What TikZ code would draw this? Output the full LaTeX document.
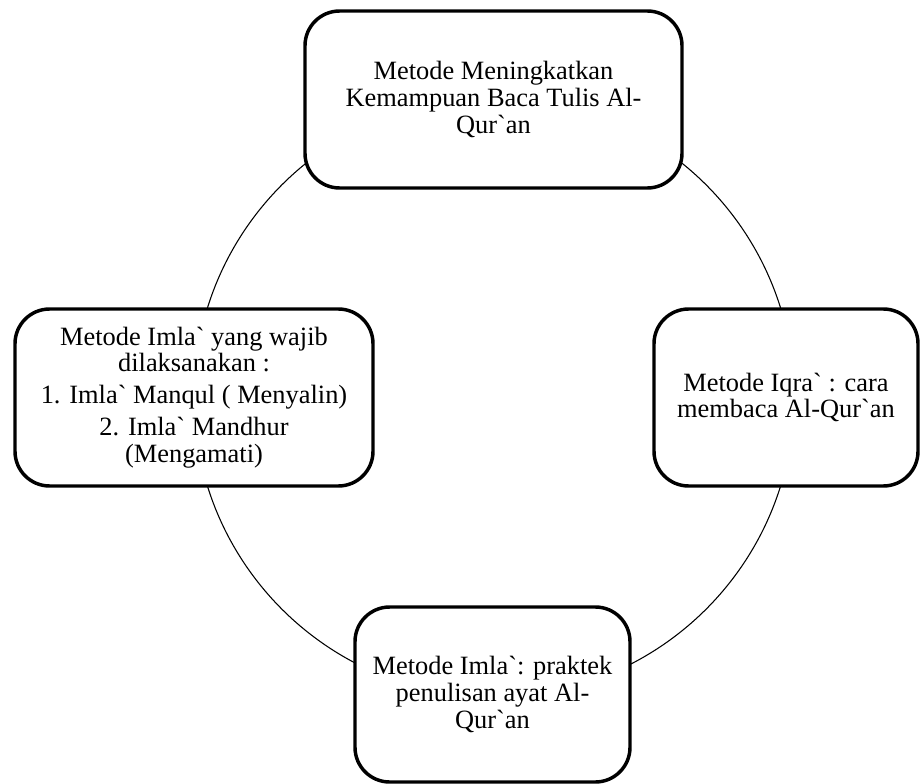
\documentclass[tikz,border=0pt]{standalone}
\usepackage{fontspec}
\setmainfont{Liberation Serif}[Ligatures=TeXOff]
\begin{document}
\begin{tikzpicture}[x=0.75pt,y=-0.75pt]
\tikzset{
  box/.style={draw, line width=2.6pt, rounded corners=26pt, fill=white,
    align=center, inner sep=0pt,
    font=\fontsize{19.8}{20}\selectfont},
  ring/.style={line width=0.8pt}
}
\useasboundingbox (0,0) rectangle (920,784);
\coordinate (c) at (494,397);
\draw[ring] (c) circle[radius=225pt];
\node[box, minimum width=282.75pt, minimum height=132.75pt] (top) at (493.5,99.5)
  {Metode Meningkatkan\\Kemampuan Baca Tulis Al-\\Qur`an};
\node[box, minimum width=198pt, minimum height=132.75pt] (right) at (786,397.5)
  {Metode Iqra` : cara\\membaca Al-Qur`an};
\node[box, minimum width=206.25pt, minimum height=131.25pt] (bottom) at (492.5,694.5)
  {Metode Imla`: praktek\\penulisan ayat Al-\\Qur`an};
\node[box, minimum width=268.5pt, minimum height=132.75pt] (left) at (194,397.5)
  {Metode Imla` yang wajib\\dilaksanakan :\\[4pt]1. Imla` Manqul ( Menyalin)\\[4pt]2. Imla` Mandhur\\(Mengamati)};
\end{tikzpicture}
\end{document}
